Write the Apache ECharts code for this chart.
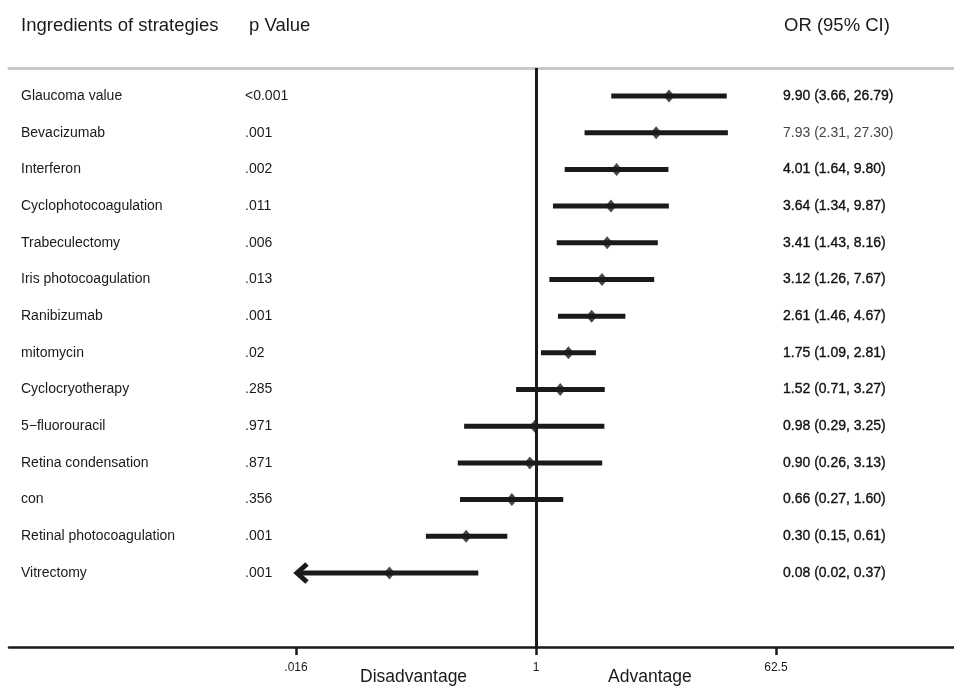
<!DOCTYPE html>
<html><head><meta charset="utf-8">
<script src="https://cdn.jsdelivr.net/npm/echarts@6/dist/echarts.min.js"></script>
<style>html,body{margin:0;padding:0;background:#fff}#c{width:954px;height:687px}</style>
</head><body><div id="c"></div>
<script>
// ---- data ----
const names = ['Glaucoma value','Bevacizumab','Interferon','Cyclophotocoagulation','Trabeculectomy','Iris photocoagulation','Ranibizumab','mitomycin','Cyclocryotherapy','5\u2212fluorouracil','Retina condensation','con','Retinal photocoagulation','Vitrectomy'];
const pValues = ['<0.001','.001','.002','.011','.006','.013','.001','.02','.285','.971','.871','.356','.001','.001'];
const oddsRatios = [9.90,7.93,4.01,3.64,3.41,3.12,2.61,1.75,1.52,0.98,0.90,0.66,0.30,0.08];
const ciLower    = [3.66,2.31,1.64,1.34,1.43,1.26,1.46,1.09,0.71,0.29,0.26,0.27,0.15,0.02];
const ciUpper    = [26.79,27.30,9.80,9.87,8.16,7.67,4.67,2.81,3.27,3.25,3.13,1.60,0.61,0.37];
const arrowLeft  = [0,0,0,0,0,0,0,0,0,0,0,0,0,1];
const tickValues = [1/62.5, 1, 62.5];
const tickLabels = ['.016','1','62.5'];
const sideLabels = ['Disadvantage','Advantage'];
const headers = ['Ingredients of strategies','p Value','OR (95% CI)'];

// ---- helpers ----
const BASE = 62.5;
const t = v => Math.log(v) / Math.log(BASE);
const FLOOR = tickValues[0];
const rows = names.map((_, i) => i + 1);
const FONT = '"Liberation Sans", Arial, Helvetica, sans-serif';
const INK = '#1a1a1a';
const XMIN = -2.196, XMAX = 1.742;
const YMIN = 0.237, YMAX = 16.017;

const ciData = rows.map((r, i) => [t(arrowLeft[i] ? FLOOR : ciLower[i]), t(ciUpper[i]), r, arrowLeft[i]]);
const pointData = rows.map((r, i) => [t(oddsRatios[i]), r]);
const orText = oddsRatios.map((v, i) => v.toFixed(2) + ' (' + ciLower[i].toFixed(2) + ', ' + ciUpper[i].toFixed(2) + ')');

const yBase = {
  type: 'value', min: YMIN, max: YMAX, inverse: true,
  axisLine: {show: false}, axisTick: {show: false}, splitLine: {show: false}
};
function textAxis(position, margin, labels, extra) {
  return Object.assign({}, yBase, {
    position: position,
    axisLabel: Object.assign({
      customValues: rows,
      formatter: v => labels[Math.round(v) - 1],
      align: 'left', margin: margin,
      fontFamily: FONT, fontSize: 14, color: INK
    }, extra || {})
  });
}
const headStyle = {fontFamily: FONT, fontSize: 18.5, fontWeight: 'normal', color: INK};

const chart = echarts.init(document.getElementById('c'), null, {renderer: 'canvas'});
chart.setOption({
  animation: false,
  backgroundColor: '#fff',
  title: [
    {text: headers[0], left: 21, top: 16, padding: 0, textStyle: headStyle},
    {text: headers[1], left: 249, top: 16, padding: 0, textStyle: headStyle},
    {text: headers[2], left: 784, top: 16, padding: 0, textStyle: headStyle}
  ],
  grid: {left: 9, right: 0, top: 68, bottom: 40, containLabel: false, outerBoundsMode: 'none'},
  xAxis: [
    {
      type: 'value', min: XMIN, max: XMAX, position: 'bottom',
      axisLine: {show: true, lineStyle: {color: INK, width: 2.5}},
      axisTick: {show: true, customValues: tickValues.map(t), length: 8, lineStyle: {color: INK, width: 2.5}},
      axisLabel: {customValues: tickValues.map(t), formatter: v => tickLabels[Math.round(v) + 1], fontFamily: FONT, fontSize: 12, color: INK, margin: 15},
      splitLine: {show: false}
    },
    {
      type: 'value', min: XMIN, max: XMAX, position: 'top',
      axisLine: {show: true, lineStyle: {color: '#c8c8c8', width: 3}},
      axisTick: {show: false}, axisLabel: {show: false}, splitLine: {show: false}
    },
    {
      type: 'value', min: XMIN, max: XMAX, position: 'bottom',
      axisLine: {show: false}, axisTick: {show: false}, splitLine: {show: false},
      axisLabel: {customValues: [-0.51, 0.475], formatter: v => (v < 0 ? sideLabels[0] : sideLabels[1]), fontFamily: FONT, fontSize: 17.5, color: INK, margin: 21}
    }
  ],
  yAxis: [
    textAxis('left', -12, names),
    textAxis('left', -236, pValues),
    textAxis('right', -171, orText, {
      formatter: v => { const i = Math.round(v) - 1; return (i === 1 ? '{n|' : '{b|') + orText[i] + '}'; },
      rich: {
        b: {fontFamily: FONT, fontSize: 14, color: '#111', textBorderColor: '#111', textBorderWidth: 0.35},
        n: {fontFamily: FONT, fontSize: 14, color: '#444'}
      }
    })
  ],
  series: [
    {
      type: 'custom', xAxisIndex: 0, yAxisIndex: 0, z: 3,
      encode: {x: [0, 1], y: 2},
      data: ciData,
      renderItem: function (params, api) {
        const arrow = api.value(3);
        const p1 = api.coord([api.value(0), api.value(2)]);
        const p2 = api.coord([api.value(1), api.value(2)]);
        const children = [{
          type: 'line',
          shape: {x1: p1[0] + (arrow ? 2 : 0), y1: p1[1], x2: p2[0], y2: p2[1]},
          style: {stroke: INK, lineWidth: 5}
        }];
        if (arrow) {
          children.push({
            type: 'polyline',
            shape: {points: [[p1[0] + 11, p1[1] - 9], [p1[0] + 1, p1[1]], [p1[0] + 11, p1[1] + 9]]},
            style: {stroke: INK, lineWidth: 5, fill: null, lineJoin: 'miter'}
          });
        }
        return {type: 'group', children: children};
      }
    },
    {
      type: 'scatter', xAxisIndex: 0, yAxisIndex: 0, z: 4,
      symbol: 'diamond', symbolSize: [11, 13],
      itemStyle: {color: INK},
      data: pointData,
      markLine: {
        silent: true, symbol: 'none', label: {show: false},
        lineStyle: {color: INK, width: 3, type: 'solid'},
        data: [{xAxis: 0}]
      }
    }
  ]
});
</script>
</body></html>
